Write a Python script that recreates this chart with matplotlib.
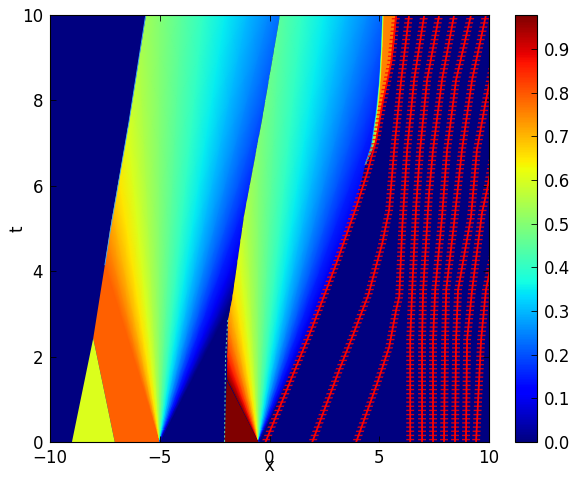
import matplotlib
matplotlib.use("Agg")
import matplotlib.pyplot as plt
import numpy as np
from matplotlib import cm
from matplotlib.colors import Normalize
from matplotlib.patches import Polygon

# constant states (value, corner x, corner t)
u_green = 0.60
u_orange = 0.79
u_top = 0.978
green_x = [-9.0, -7.05, -8.03]
green_t = [0.0, 0.0, 2.43]
orange_x = [-7.05, -5.0, -6.8, -7.5, -8.03]
orange_t = [0.0, 0.0, 4.15, 4.15, 2.43]
darkred_x = [-2.05, -0.5, -1.95]
darkred_t = [0.0, 0.0, 1.45]

# fans: value on each ray and where the ray reaches t=10
fan1_x0 = -5.0
fan1_u = [0.79, 0.75, 0.7, 0.65, 0.6, 0.55, 0.5, 0.45, 0.4, 0.35, 0.3, 0.25, 0.2, 0.15, 0.1, 0.05, 0.0]
fan1_top = [-11.0, -10.0, -9.0, -8.0, -7.0, -6.0, -5.0, -4.0, -3.0, -2.0, -1.0, 0.0, 1.0, 2.0, 3.0, 4.0, 5.0]
fan2_x0 = -0.5
fan2_u = [0.978, 0.95, 0.9, 0.85, 0.8, 0.75, 0.7, 0.65, 0.6, 0.55, 0.5, 0.45, 0.4, 0.35, 0.3, 0.25, 0.2, 0.15, 0.1, 0.05, 0.0]
fan2_top = [-10.1, -9.5, -8.5, -7.5, -6.5, -5.5, -4.5, -3.5, -2.5, -1.5, -0.5, 0.5, 1.5, 2.5, 3.5, 4.5, 5.5, 6.5, 7.5, 8.5, 9.5]
fan_rows = [0.0, 0.15, 0.3, 0.5, 0.75, 1.0, 1.5, 2.0, 2.5, 3.0, 4.0, 5.0, 6.0, 7.0, 8.0, 9.0, 10.0]

# fronts
front1_x = [-7.5, -7.25, -6.4, -5.64]
front1_t = [4.15, 4.96, 7.5, 10.0]
front2_x = [-2.05, -2.0, -1.9, -1.73, -1.14, -0.36, 0.5]
front2_t = [0.0, 2.0, 2.86, 3.33, 5.3, 7.54, 10.0]

# thin orange wedge on the right of the second wave
wedge_t = [6.49, 6.96, 7.73, 8.43, 9.23, 10.0]
wedge_x = [
    [4.36, 4.64, 4.86, 5.0, 5.09, 5.14],
    [4.36, 4.68, 4.9, 5.03, 5.12, 5.17],
    [4.36, 4.71, 4.93, 5.06, 5.15, 5.2],
    [4.36, 4.73, 4.96, 5.09, 5.18, 5.23],
    [4.36, 4.77, 5.05, 5.32, 5.64, 5.77],
]
wedge_u = [
    [0.13, 0.2, 0.22, 0.22, 0.22, 0.22],
    [0.15, 0.35, 0.42, 0.45, 0.45, 0.45],
    [0.15, 0.45, 0.6, 0.62, 0.62, 0.62],
    [0.15, 0.55, 0.72, 0.75, 0.75, 0.75],
    [0.15, 0.6, 0.75, 0.76, 0.76, 0.76],
]

# particle paths, each with its own t nodes
path1_x = [-0.18, 1.95, 3.05, 3.95, 4.45, 4.86, 5.14, 5.55, 5.77]
path1_t = [0.0, 2.69, 4.19, 5.5, 6.3, 7.07, 7.9, 8.9, 10.0]
path2_x = [1.95, 3.18, 3.77, 4.5, 5.14, 5.45, 5.68, 6.0, 6.36]
path2_t = [0.0, 1.69, 2.46, 3.44, 4.66, 5.43, 6.84, 8.48, 10.0]
path3_x = [3.95, 4.91, 5.45, 5.77, 5.91, 6.05, 6.27, 6.59, 7.05]
path3_t = [0.0, 1.38, 2.22, 3.09, 3.40, 5.04, 6.84, 8.48, 10.0]
path4_x = [6.41, 6.41, 6.5, 6.68, 6.86, 7.18, 7.73]
path4_t = [0.0, 2.39, 3.56, 5.5, 6.84, 8.48, 10.0]
path5_x = [6.95, 6.95, 7.0, 7.27, 7.45, 7.86, 8.41]
path5_t = [0.0, 2.39, 3.56, 5.83, 6.84, 8.48, 10.0]
path6_x = [7.45, 7.45, 7.55, 7.86, 8.09, 8.5, 9.18]
path6_t = [0.0, 2.39, 3.56, 5.27, 6.84, 8.48, 10.0]
path7_x = [7.95, 8.0, 8.05, 8.41, 8.77, 9.23, 9.86]
path7_t = [0.0, 2.39, 3.56, 5.13, 6.84, 8.48, 10.0]
path8_x = [8.45, 8.5, 8.59, 9.18, 9.45, 9.86, 10.32]
path8_t = [0.0, 2.39, 3.56, 5.27, 6.84, 8.0, 9.18]
path9_x = [8.95, 9.0, 9.23, 9.68, 9.91, 10.32]
path9_t = [0.0, 2.39, 3.56, 5.36, 5.9, 7.07]
path10_x = [9.41, 9.64, 9.86, 10.32]
path10_t = [0.0, 2.39, 3.56, 4.73]

plt.rcParams["font.size"] = 12
plt.rcParams["hatch.linewidth"] = 1.0
plt.rcParams["hatch.color"] = "red"

norm = Normalize(0.0, u_top)
jet = matplotlib.colormaps["jet"]

fig = plt.figure(figsize=(5.81, 4.80), dpi=100)
ax = fig.add_axes([50 / 581, 38 / 480, 439 / 581, 427 / 480])
ax.set_facecolor(jet(0.0))


def draw_fan(x0, top, u, clip_x, clip_t):
    rows = np.array(fan_rows)[:, None]
    X = x0 + (np.array(top) - x0) * rows / 10.0
    T = np.repeat(rows, len(top), axis=1)
    C = np.repeat(np.array(u)[None, :], len(fan_rows), axis=0)
    mesh = ax.pcolormesh(X, T, C, cmap=jet, norm=norm, shading="gouraud", zorder=1)
    poly = Polygon(np.column_stack([clip_x, clip_t]), transform=ax.transData)
    mesh.set_clip_path(poly)


# orange sits under the first fan so no gap shows along the shared ray
ax.fill(orange_x, orange_t, color=jet(norm(u_orange)), lw=0, zorder=0.9)
ax.fill(green_x, green_t, color=jet(norm(u_green)), lw=0, zorder=1.1)

clip1_x = [fan1_x0] + front1_x + front2_x[::-1]
clip1_t = [0.0] + front1_t + front2_t[::-1]
draw_fan(fan1_x0, fan1_top, fan1_u, clip1_x, clip1_t)

right_x = [4.36, 3.95, 3.05, 1.95, fan2_x0]
right_t = [6.49, 5.5, 4.19, 2.69, 0.0]
clip2_x = [fan2_x0, darkred_x[2]] + front2_x[2:] + wedge_x[0][::-1] + right_x
clip2_t = [0.0, darkred_t[2]] + front2_t[2:] + wedge_t[::-1] + right_t
draw_fan(fan2_x0, fan2_top, fan2_u, clip2_x, clip2_t)
ax.fill(darkred_x, darkred_t, color=jet(1.0), lw=0, zorder=1.2)

ax.pcolormesh(np.array(wedge_x), np.array([wedge_t] * len(wedge_x)), np.array(wedge_u),
              cmap=jet, norm=norm, shading="gouraud", zorder=1.2)

# thin coloured edge along the fronts
ax.plot(front2_x[:3], front2_t[:3], color="#60c0a0", lw=0.8, ls=(0, (2, 2)), zorder=1.3)
ax.plot(front1_x, front1_t, color="#40b0ff", lw=0.6, zorder=1.3)

paths = [(path1_x, path1_t), (path2_x, path2_t), (path3_x, path3_t), (path4_x, path4_t),
         (path5_x, path5_t), (path6_x, path6_t), (path7_x, path7_t), (path8_x, path8_t),
         (path9_x, path9_t), (path10_x, path10_t)]
for xs, ts in paths:
    xs = np.array(xs)
    ax.fill_betweenx(ts, xs - 0.18, xs + 0.18, facecolor="none", edgecolor="red",
                     hatch="----", linewidth=0, alpha=0.85, zorder=1.5)
    ax.plot(xs, ts, color="red", lw=1.3, zorder=1.6)

ax.set_xlim(-10, 10)
ax.set_ylim(0, 10)
ax.set_xticks([-10, -5, 0, 5, 10])
ax.set_yticks([0, 2, 4, 6, 8, 10])
ax.tick_params(direction="in", top=True, right=True, length=4, width=0.6, pad=5)
ax.set_xlabel("x", labelpad=-7)
ax.set_ylabel("t", labelpad=-3)

cax = fig.add_axes([515 / 581, 38 / 480, 22 / 581, 427 / 480])
cb = fig.colorbar(cm.ScalarMappable(norm=norm, cmap=jet), cax=cax,
                  ticks=[0.0, 0.1, 0.2, 0.3, 0.4, 0.5, 0.6, 0.7, 0.8, 0.9])
cb.ax.tick_params(direction="in", length=4, width=0.6, pad=5)
cb.ax.set_yticklabels(["0.0", "0.1", "0.2", "0.3", "0.4", "0.5", "0.6", "0.7", "0.8", "0.9"])

fig.savefig("out.png", dpi=100)
